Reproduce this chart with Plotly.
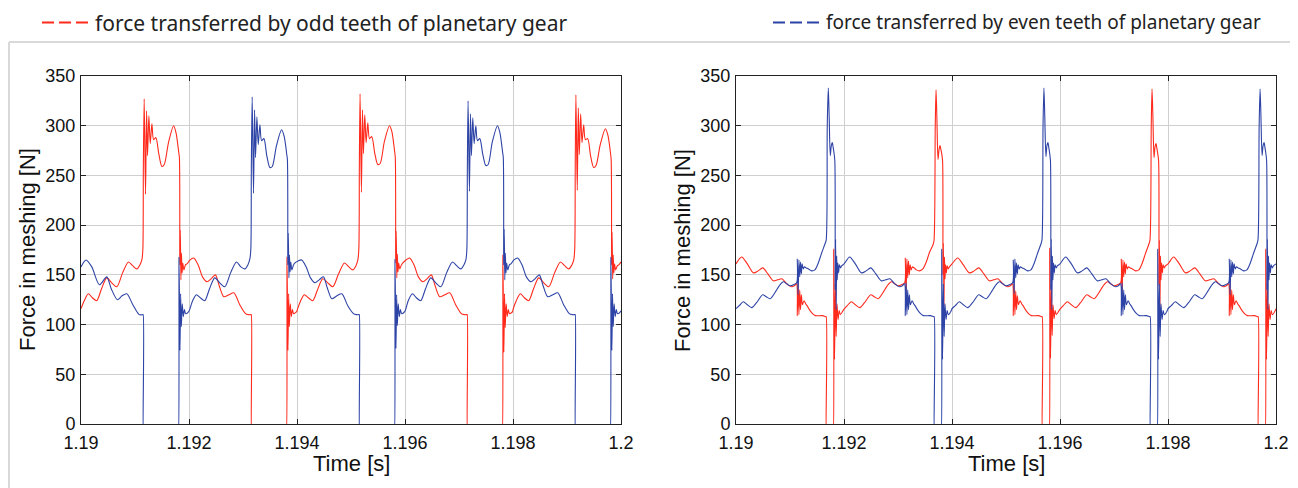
import plotly.graph_objects as go

# ---------------- data (time offset from 1.19 s in microseconds, force in N) ----------------
T0 = 1.19

left_odd = [
    (0,116),(60,124),(136,131),(210,127),(291,124),(380,136),(477,147),(570,142),(663,138),(770,152),(879,163),(960,159),
    (1034,156),(1090,160),(1127,165),(1145,175),(1155,260),(1170,327),(1195,231),(1214,315),(1232,270),(1257,310),(1282,282),
    (1313,302),(1344,286),(1387,288),(1440,272),(1498,259),(1542,261),(1620,283),(1715,300),(1759,293),(1790,282),(1808,274),
    (1822,268),(1830,160),(1839,195),(1850,145),(1860,172),(1872,152),(1885,162),(1905,155),(1935,160),(1963,161),(2020,165),
    (2087,167),(2170,160),(2250,148),(2334,143),(2410,146),(2489,150),(2560,139),(2644,128),(2740,130),(2830,132),(2940,120),
    (3046,111),(3100,110),(3150,110),(3154,110),(3155,-2),(3156,-2),(3807,-2),(3808,-2),(3815,168),(3833,74),(3845,131),
    (3858,98),(3875,121),(3895,108),(3915,115),(3938,111),(3994,113),
    (4000,114),(4060,123),(4136,130),(4210,127),(4291,124),(4380,135),(4477,146),(4570,142),(4663,138),(4770,151),(4879,162),
    (4960,158),(5034,155),(5090,159),(5127,165),(5145,176),(5155,262),(5168,332),(5193,233),(5212,316),(5230,272),(5255,311),
    (5280,283),(5311,303),(5342,287),(5385,289),(5438,273),(5496,261),(5540,262),(5618,284),(5713,300),(5757,294),(5788,283),
    (5806,275),(5820,268),(5828,162),(5837,194),(5848,147),(5858,171),(5870,153),(5883,162),(5903,156),(5933,160),(5961,162),
    (6018,165),(6085,167),(6168,160),(6248,148),(6332,143),(6408,146),(6487,150),(6558,139),(6642,128),(6738,130),(6828,132),
    (6938,120),(7044,111),(7098,110),(7148,110),(7152,110),(7153,-2),(7154,-2),(7805,-2),(7806,-2),(7813,170),(7831,72),
    (7843,131),(7856,97),(7873,121),(7893,108),(7913,115),(7936,111),(7992,113),
    (8000,115),(8060,124),(8136,131),(8210,127),(8291,124),(8380,136),(8477,147),(8570,142),(8663,138),(8770,152),(8879,163),
    (8960,159),(9034,156),(9090,160),(9125,165),(9143,176),(9153,262),(9165,331),(9190,235),(9209,318),(9228,271),(9253,312),
    (9278,283),(9309,301),(9340,286),(9383,287),(9436,270),(9494,258),(9538,260),(9616,281),(9711,297),(9755,291),(9786,281),
    (9804,273),(9818,266),(9826,160),(9835,193),(9846,146),(9856,170),(9868,152),(9881,161),(9901,155),(9931,159),(9959,160),
    (10000,163),
]

left_even = [
    (0,158),(93,165),(200,158),(341,140),(477,148),(560,136),(675,125),(760,129),(848,131),(960,120),(1077,110),(1145,110),
    (1151,110),(1152,-2),(1153,-2),(1807,-2),(1808,-2),(1815,168),(1833,74),(1845,131),(1858,98),(1875,121),(1895,108),
    (1915,115),(1938,111),(1994,113),
    (2060,123),(2136,130),(2210,127),(2291,124),(2380,136),(2477,147),(2570,142),(2663,138),(2770,152),(2879,163),(2960,158),
    (3034,156),(3090,160),(3127,166),(3145,176),(3155,262),(3170,329),(3195,232),(3214,316),(3232,268),(3257,309),(3282,281),
    (3313,301),(3344,285),(3387,287),(3440,270),(3498,258),(3542,259),(3620,280),(3715,296),(3759,290),(3790,280),(3808,272),
    (3822,266),(3830,160),(3839,192),(3850,147),(3860,170),(3872,153),(3885,163),(3905,155),(3935,160),(3963,162),(4020,164),
    (4087,165),(4170,158),(4250,147),(4334,142),(4410,145),(4489,148),(4560,137),(4644,126),(4740,129),(4830,131),(4940,119),
    (5046,111),(5100,110),(5150,110),(5154,110),(5155,-2),(5156,-2),(5807,-2),(5808,-2),(5815,166),(5833,76),(5845,130),
    (5858,99),(5875,121),(5895,108),(5915,115),(5938,111),(5994,113),
    (6060,124),(6136,131),(6210,127),(6291,124),(6380,136),(6477,147),(6570,142),(6663,138),(6770,152),(6879,163),(6960,159),
    (7034,156),(7090,160),(7127,165),(7145,175),(7155,258),(7168,325),(7193,234),(7212,312),(7230,270),(7255,308),(7280,282),
    (7311,300),(7342,285),(7385,287),(7438,272),(7496,260),(7540,261),(7618,284),(7713,300),(7757,293),(7788,282),(7806,274),
    (7820,268),(7828,160),(7837,196),(7848,145),(7858,172),(7870,152),(7883,162),(7903,155),(7933,160),(7961,161),(8018,165),
    (8085,167),(8168,160),(8248,148),(8332,143),(8408,146),(8487,150),(8558,139),(8642,128),(8738,130),(8828,132),(8938,120),
    (9044,111),(9098,110),(9148,110),(9152,110),(9153,-2),(9154,-2),(9805,-2),(9806,-2),(9813,168),(9831,74),(9843,131),
    (9856,98),(9873,121),(9893,108),(9913,115),(9936,111),(9992,113),(10000,114),
]

right_odd = [
    (0,161),(105,168),(210,161),(322,152),(410,154),(495,157),(590,151),(690,144),(770,145),(850,146),(940,141),(1030,138),
    (1080,139),(1120,141),(1135,109),(1150,142),(1165,110),(1180,135),(1195,115),(1210,130),(1230,120),(1260,124),(1290,121),
    (1315,119),(1400,112),(1469,109),(1600,109),(1660,108),(1669,108),(1670,-2),(1671,-2),(1804,-2),(1805,-2),(1810,176),
    (1825,65),(1840,141),(1855,88),(1870,121),(1890,105),(1910,114),(1932,110),(1994,115),
    (2060,119),(2136,123),(2210,120),(2291,117),(2380,122),(2495,130),(2560,128),(2632,126),(2720,132),(2800,139),(2879,143),
    (2940,141),(3003,139),(3060,140),(3123,142),(3135,167),(3150,131),(3165,166),(3180,147),(3195,164),(3210,150),(3225,160),
    (3245,155),(3265,158),(3300,157),(3340,155),(3400,154),(3460,156),(3524,163),(3586,173),(3647,180),(3666,184),(3690,300),
    (3704,336),(3720,308),(3741,266),(3760,276),(3778,280),(3795,276),(3810,272),(3826,264),(3832,150),(3841,182),(3851,118),
    (3861,168),(3871,146),(3881,160),(3896,152),(3911,159),(3931,156),(3952,158),(4000,161),(4105,167),(4210,160),(4322,152),
    (4410,154),(4495,157),(4590,151),(4690,144),(4770,145),(4850,146),(4940,141),(5030,138),(5080,139),(5120,141),(5135,109),
    (5150,141),(5165,110),(5180,134),(5195,115),(5210,129),(5230,120),(5260,124),(5290,121),(5315,119),(5400,112),(5469,109),
    (5600,109),(5660,108),(5669,108),(5670,-2),(5671,-2),(5804,-2),(5805,-2),(5810,177),(5825,66),(5840,140),(5855,89),
    (5870,120),(5890,106),(5910,114),(5932,110),(5994,115),
    (6060,119),(6136,123),(6210,120),(6291,117),(6380,122),(6495,130),(6560,128),(6632,126),(6720,132),(6800,139),(6879,143),
    (6940,141),(7003,139),(7060,140),(7123,142),(7135,166),(7150,130),(7165,165),(7180,148),(7195,163),(7210,151),(7225,161),
    (7245,156),(7265,158),(7300,157),(7340,156),(7400,154),(7460,155),(7524,162),(7586,172),(7647,181),(7666,185),(7690,300),
    (7704,337),(7720,310),(7741,268),(7760,279),(7778,282),(7795,277),(7810,272),(7826,265),(7832,140),(7841,185),(7851,116),
    (7861,169),(7871,145),(7881,162),(7896,152),(7911,160),(7931,157),(7952,159),(8000,161),(8105,168),(8210,161),(8322,152),
    (8410,154),(8495,157),(8590,151),(8690,144),(8770,145),(8850,146),(8940,141),(9030,138),(9080,139),(9120,141),(9135,109),
    (9150,142),(9165,110),(9180,135),(9195,115),(9210,130),(9230,120),(9260,124),(9290,121),(9315,119),(9400,112),(9469,109),
    (9600,109),(9660,108),(9669,108),(9670,-2),(9671,-2),(9804,-2),(9805,-2),(9810,176),(9825,65),(9840,141),(9855,88),
    (9870,121),(9890,105),(9910,114),(9932,110),(9994,115),(10000,116),
]

right_even = [
    (0,116),(60,119),(136,123),(210,120),(291,117),(380,122),(495,130),(560,128),(632,126),(720,132),(800,139),(879,143),
    (940,141),(1003,139),(1060,140),(1123,142),(1135,166),(1150,130),(1165,165),(1180,148),(1195,163),(1210,151),(1225,161),
    (1245,156),(1265,158),(1300,157),(1340,156),(1400,154),(1460,155),(1524,162),(1586,172),(1647,181),(1670,185),(1690,300),
    (1709,338),(1725,310),(1746,270),(1765,280),(1783,283),(1800,278),(1814,273),(1830,265),(1836,135),(1845,186),(1855,115),
    (1865,169),(1875,145),(1885,162),(1900,152),(1915,160),(1935,157),(1956,159),(2000,161),(2105,168),(2210,161),(2322,152),
    (2410,154),(2495,157),(2590,151),(2690,144),(2770,145),(2850,146),(2940,141),(3030,138),(3080,139),(3120,141),(3135,109),
    (3150,142),(3165,110),(3180,135),(3195,115),(3210,130),(3230,120),(3260,124),(3290,121),(3315,119),(3400,112),(3469,109),
    (3600,109),(3660,108),(3669,108),(3670,-2),(3671,-2),(3804,-2),(3805,-2),(3810,176),(3825,65),(3840,141),(3855,88),
    (3870,121),(3890,105),(3910,114),(3932,110),(3994,115),
    (4000,116),(4060,119),(4136,123),(4210,120),(4291,117),(4380,122),(4495,130),(4560,128),(4632,126),(4720,132),(4800,139),
    (4879,143),(4940,141),(5003,139),(5060,140),(5123,142),(5135,165),(5150,131),(5165,166),(5180,147),(5195,162),(5210,151),
    (5225,160),(5245,156),(5265,158),(5300,157),(5340,156),(5400,154),(5460,155),(5524,162),(5586,172),(5647,181),(5666,185),
    (5686,300),(5702,338),(5718,310),(5739,269),(5758,280),(5776,283),(5793,278),(5807,273),(5823,265),(5830,135),(5839,186),
    (5849,115),(5859,169),(5869,145),(5879,162),(5894,152),(5909,160),(5929,157),(5950,159),(6000,161),(6105,168),(6210,161),
    (6322,152),(6410,154),(6495,157),(6590,151),(6690,144),(6770,145),(6850,146),(6940,141),(7030,138),(7080,139),(7120,141),
    (7135,109),(7150,142),(7165,110),(7180,135),(7195,115),(7210,130),(7230,120),(7260,124),(7290,121),(7315,119),(7400,112),
    (7469,109),(7600,109),(7660,108),(7669,108),(7670,-2),(7671,-2),(7804,-2),(7805,-2),(7810,176),(7825,65),(7840,141),
    (7855,88),(7870,121),(7890,105),(7910,114),(7932,110),(7994,115),
    (8000,116),(8060,119),(8136,123),(8210,120),(8291,117),(8380,122),(8495,130),(8560,128),(8632,126),(8720,132),(8800,139),
    (8879,143),(8940,141),(9003,139),(9060,140),(9123,142),(9135,166),(9150,130),(9165,165),(9180,148),(9195,163),(9210,151),
    (9225,161),(9245,156),(9265,158),(9300,157),(9340,156),(9400,154),(9460,155),(9524,162),(9586,172),(9647,181),(9666,185),
    (9688,300),(9705,337),(9721,310),(9742,270),(9761,280),(9779,283),(9796,278),(9810,273),(9826,265),(9832,135),(9841,186),
    (9851,115),(9861,169),(9871,145),(9881,162),(9896,152),(9911,160),(9931,157),(9952,159),(10000,161),
]

x_tickvals = [1.19, 1.192, 1.194, 1.196, 1.198, 1.2]
x_ticktext = ["1.19", "1.192", "1.194", "1.196", "1.198", "1.2"]
y_tickvals = [0, 50, 100, 150, 200, 250, 300, 350]
legend_odd = "force transferred by odd teeth of planetary gear"
legend_even = "force transferred by even teeth of planetary gear"
x_title = "Time [s]"
y_title = "Force in meshing [N]"

RED = "#ff2a1c"
BLUE = "#2d43a6"

# the page places the figure 8 px from the window's top-left corner
OFF = 8
W, H = 1298 - OFF, 488 - OFF


def px(xs_):
    return (xs_ - OFF) / W


def py(ys_):
    return (488 - ys_) / H


def xs(series):
    return [T0 + t * 1e-6 for t, _ in series]


def fs(series):
    return [f for _, f in series]


fig = go.Figure()
line_kw = dict(shape="spline", smoothing=0.8, width=1.1)
fig.add_trace(go.Scatter(x=xs(left_odd), y=fs(left_odd), mode="lines", line=dict(color=RED, **line_kw),
                         xaxis="x", yaxis="y", showlegend=False))
fig.add_trace(go.Scatter(x=xs(left_even), y=fs(left_even), mode="lines", line=dict(color=BLUE, **line_kw),
                         xaxis="x", yaxis="y", showlegend=False))
fig.add_trace(go.Scatter(x=xs(right_odd), y=fs(right_odd), mode="lines", line=dict(color=RED, **line_kw),
                         xaxis="x2", yaxis="y2", showlegend=False))
fig.add_trace(go.Scatter(x=xs(right_even), y=fs(right_even), mode="lines", line=dict(color=BLUE, **line_kw),
                         xaxis="x2", yaxis="y2", showlegend=False))

tick_font = dict(family="Liberation Sans, Arial, sans-serif", size=18, color="#111111")
xaxis_common = dict(range=[1.19, 1.2], tickvals=x_tickvals, ticktext=x_ticktext, showgrid=True,
                    gridcolor="#cfcfcf", gridwidth=1, showline=True, linecolor="#222222", linewidth=1,
                    mirror="ticks", ticks="inside", ticklen=5, tickcolor="#222222", zeroline=False,
                    tickfont=tick_font, ticklabelstandoff=2, automargin=False)
yaxis_common = dict(range=[0, 350], tickvals=y_tickvals, showgrid=True, gridcolor="#cfcfcf", gridwidth=1,
                    showline=True, linecolor="#222222", linewidth=1, mirror="ticks", ticks="inside",
                    ticklen=5, tickcolor="#222222", zeroline=False, tickfont=tick_font,
                    ticklabelstandoff=1, automargin=False)

fig.update_layout(
    width=W, height=H,
    autosize=False,
    margin=dict(l=0, r=0, t=0, b=0, pad=0, autoexpand=False),
    paper_bgcolor="white", plot_bgcolor="white",
    xaxis=dict(domain=[px(81), px(621)], anchor="y", **xaxis_common),
    yaxis=dict(domain=[py(424), py(76)], anchor="x", **yaxis_common),
    xaxis2=dict(domain=[px(736), px(1276)], anchor="y2", **xaxis_common),
    yaxis2=dict(domain=[py(424), py(76)], anchor="x2", **yaxis_common),
    showlegend=False,
)

title_font = dict(family="Liberation Sans, Arial, sans-serif", size=22, color="#111111")
legend_font_odd = dict(family="Noto Sans, sans-serif", size=21, color="#222222")
legend_font_even = dict(family="Noto Sans, sans-serif", size=19, color="#222222")
annotations = [
    dict(x=px(351), y=py(463), xref="paper", yref="paper", text=x_title, showarrow=False, font=title_font,
         xanchor="center", yanchor="middle"),
    dict(x=px(1006), y=py(463), xref="paper", yref="paper", text=x_title, showarrow=False, font=title_font,
         xanchor="center", yanchor="middle"),
    dict(x=px(27), y=py(250), xref="paper", yref="paper", text=y_title, showarrow=False, font=title_font,
         textangle=-90, xanchor="center", yanchor="middle"),
    dict(x=px(682), y=py(250), xref="paper", yref="paper", text=y_title, showarrow=False, font=title_font,
         textangle=-90, xanchor="center", yanchor="middle"),
    dict(x=px(93), y=py(23), xref="paper", yref="paper", text=legend_odd, showarrow=False, font=legend_font_odd,
         xanchor="left", yanchor="middle"),
    dict(x=px(824), y=py(22.5), xref="paper", yref="paper", text=legend_even, showarrow=False,
         font=legend_font_even, xanchor="left", yanchor="middle"),
]
fig.update_layout(annotations=annotations)

shapes = [
    # legend dash samples
    dict(type="line", xref="paper", yref="paper", x0=px(42), x1=px(88), y0=py(22.5), y1=py(22.5),
         line=dict(color=RED, width=2, dash="12px,5px")),
    dict(type="line", xref="paper", yref="paper", x0=px(773), x1=px(820), y0=py(22.5), y1=py(22.5),
         line=dict(color=BLUE, width=2, dash="12px,5px")),
    # light frame around the chart area
    dict(type="line", xref="paper", yref="paper", x0=px(9), x1=1.0, y0=py(42), y1=py(42),
         line=dict(color="#d9d9d9", width=2)),
    dict(type="line", xref="paper", yref="paper", x0=px(9), x1=px(9), y0=py(42), y1=0,
         line=dict(color="#d9d9d9", width=2)),
]
fig.update_layout(shapes=shapes)

fig.write_html("out.html")
